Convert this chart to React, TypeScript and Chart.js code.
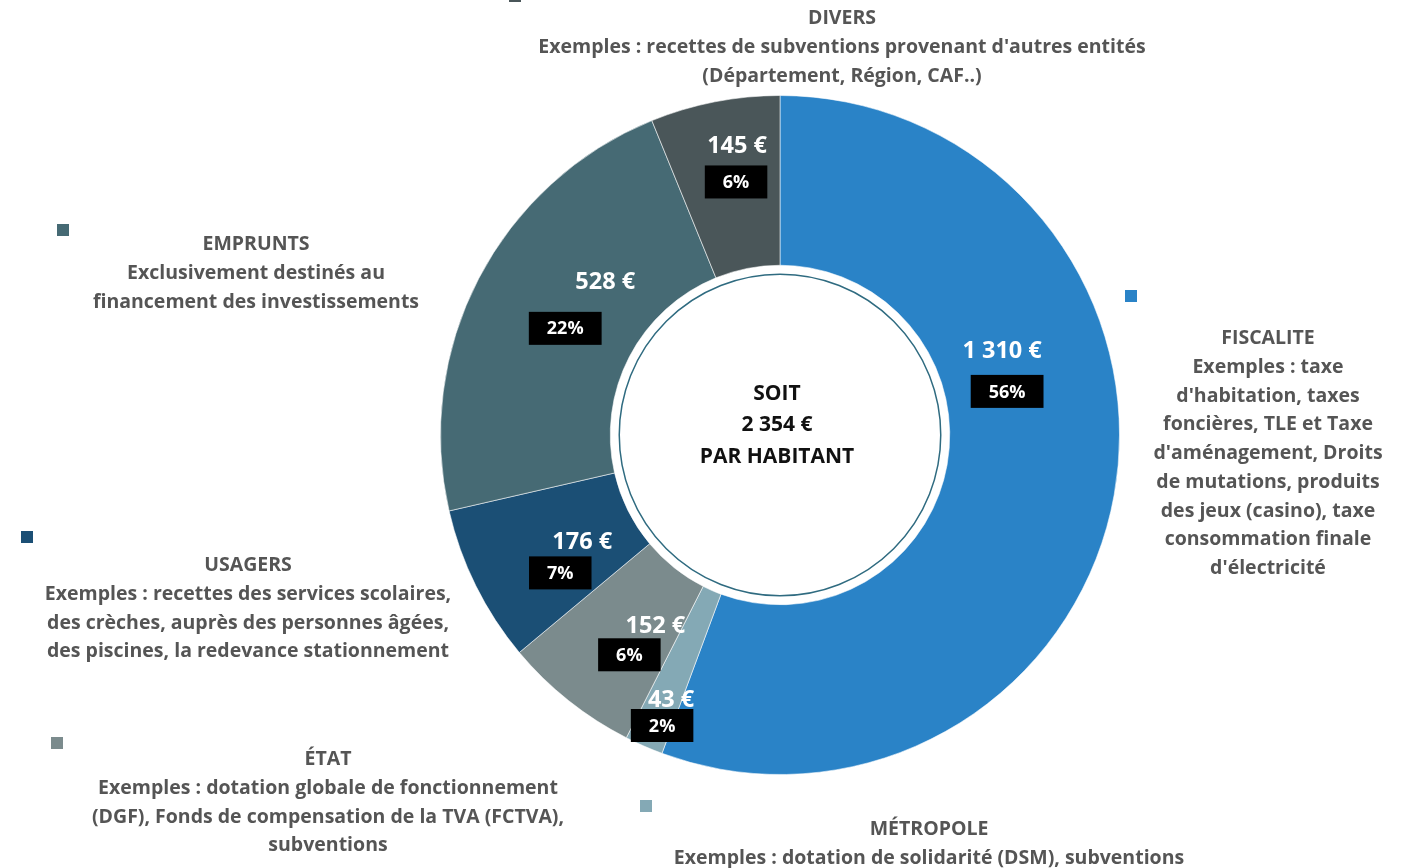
import React, { useEffect, useRef } from "react";
import { Chart, registerables } from "chart.js";

Chart.register(...registerables);

// ---- data ----
const categories = ["FISCALITE", "MÉTROPOLE", "ÉTAT", "USAGERS", "EMPRUNTS", "DIVERS"];
const values = [1310, 43, 152, 176, 528, 145];
const descriptions: string[][] = [
  [
    "Exemples : taxe",
    "d'habitation, taxes",
    "foncières, TLE et Taxe",
    "d'aménagement, Droits",
    "de mutations, produits",
    "des jeux (casino), taxe",
    "consommation finale",
    "d'électricité",
  ],
  ["Exemples : dotation de solidarité (DSM), subventions"],
  [
    "Exemples : dotation globale de fonctionnement",
    "(DGF), Fonds de compensation de la TVA (FCTVA),",
    "subventions",
  ],
  [
    "Exemples : recettes des services scolaires,",
    "des crèches, auprès des personnes âgées,",
    "des piscines, la redevance stationnement",
  ],
  ["Exclusivement destinés au", "financement des investissements"],
  ["Exemples : recettes de subventions provenant d'autres entités", "(Département, Région, CAF..)"],
];
const centerPrefix = "SOIT";
const centerSuffix = "PAR HABITANT";

// ---- styles / layout ----
const colors = ["#2A83C7", "#84A9B5", "#7B8B8D", "#1B4F75", "#466A74", "#4A5659"];
const FONT = "'Open Sans', Lato, sans-serif";

// legend block placement (marker centre, text centre x, first line y)
const legendLayout = [
  { mx: 1131, my: 296, cx: 1268, ty: 338.5 },
  { mx: 646, my: 806, cx: 929, ty: 829.5 },
  { mx: 57, my: 743, cx: 328, ty: 759.5 },
  { mx: 27, my: 537, cx: 248, ty: 565.5 },
  { mx: 63, my: 230, cx: 256, ty: 244.5 },
  { mx: 515, my: -4, cx: 842, ty: 18.5 },
];
// data label placement relative to each arc (angle offset deg, radius fraction, value text offset)
const labelLayout = [
  { da: -26.1, rf: 0.688, vx: -2.5, vy: -20.5 },
  { da: -1.4, rf: 0.883, vx: 4.5, vy: -13 },
  { da: -4.7, rf: 0.728, vx: 13, vy: -14.5 },
  { da: -3.9, rf: 0.712, vx: 11, vy: -16 },
  { da: 6.3, rf: 0.69, vx: 20, vy: -23.5 },
  { da: 2.0, rf: 0.81, vx: 0.5, vy: -18.5 },
];

const fmtEuro = (v: number) => v.toString().replace(/\B(?=(\d{3})+(?!\d))/g, " ") + " €";

const overlayPlugin = {
  id: "overlay",
  afterDatasetsDraw(chart: any) {
    const ctx: CanvasRenderingContext2D = chart.ctx;
    const meta = chart.getDatasetMeta(0);
    const data: number[] = chart.data.datasets[0].data;
    const total = data.reduce((a, b) => a + b, 0);
    ctx.save();

    // inner ring
    const a0 = meta.data[0];
    ctx.beginPath();
    ctx.arc(a0.x, a0.y, a0.innerRadius - 9, 0, Math.PI * 2);
    ctx.strokeStyle = "#2F6B80";
    ctx.lineWidth = 1.5;
    ctx.stroke();

    // centre text
    ctx.fillStyle = "#111111";
    ctx.textAlign = "center";
    ctx.textBaseline = "middle";
    ctx.font = `bold 21px ${FONT}`;
    const cl = [centerPrefix, fmtEuro(total), centerSuffix];
    cl.forEach((t, i) => ctx.fillText(t, a0.x - 3, a0.y - 41 + i * 31.5));

    // data labels
    meta.data.forEach((arc: any, i: number) => {
      const L = labelLayout[i];
      const mid = (arc.startAngle + arc.endAngle) / 2 + (L.da * Math.PI) / 180;
      const r = arc.outerRadius * L.rf;
      const ax = arc.x + Math.cos(mid) * r;
      const ay = arc.y + Math.sin(mid) * r;
      ctx.font = `bold 23.5px ${FONT}`;
      ctx.fillStyle = "#ffffff";
      ctx.fillText(fmtEuro(data[i]), ax + L.vx, ay + L.vy + 1);
      const pct = Math.round((data[i] / total) * 100) + "%";
      ctx.font = `bold 18px ${FONT}`;
      const w = ctx.measureText(pct).width + 36;
      const h = 33;
      const bx = ax - L.vx;
      const by = ay - L.vy;
      ctx.fillStyle = "#000000";
      ctx.fillRect(bx - w / 2, by - h / 2, w, h);
      ctx.fillStyle = "#ffffff";
      ctx.fillText(pct, bx, by + 1);
    });

    // legend blocks
    chart.data.labels.forEach((lab: string, i: number) => {
      const G = legendLayout[i];
      ctx.fillStyle = colors[i];
      ctx.fillRect(G.mx - 6, G.my - 6, 12, 12);
      ctx.fillStyle = "#555555";
      ctx.font = `bold 19.5px ${FONT}`;
      const lines = [lab, ...descriptions[i]];
      lines.forEach((t, j) => ctx.fillText(t, G.cx, G.ty + j * 28.75));
    });
    ctx.restore();
  },
};

export default function App() {
  const ref = useRef<HTMLCanvasElement>(null);
  useEffect(() => {
    if (!ref.current) return;
    const chart = new Chart(ref.current, {
      type: "doughnut",
      data: {
        labels: categories,
        datasets: [
          {
            data: values,
            backgroundColor: colors,
            borderColor: "rgba(255,255,255,0.55)",
            borderWidth: 1,
          },
        ],
      },
      options: {
        responsive: false,
        animation: false,
        cutout: "50%",
        layout: { padding: { left: 440, right: 281, top: 95, bottom: 93 } },
        plugins: {
          legend: { display: false },
          tooltip: { enabled: false },
        },
      },
      plugins: [overlayPlugin],
    });
    return () => chart.destroy();
  }, []);
  return (
    <div style={{ position: "absolute", left: 0, top: 0, width: 1401, height: 868, background: "#fff" }}>
      <canvas ref={ref} width={1401} height={868} />
    </div>
  );
}
